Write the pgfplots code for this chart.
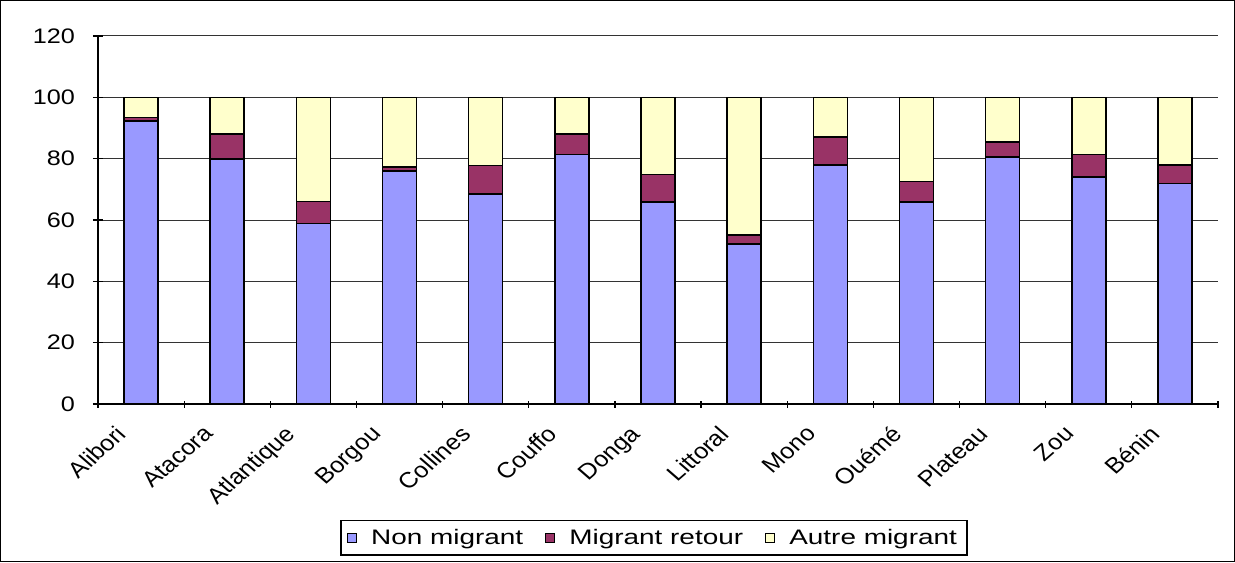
\documentclass[border=0pt]{standalone}
\usepackage{fontspec}
\setmainfont{Liberation Sans}
\usepackage{graphicx}
\usepackage{pgfplots}
\pgfplotsset{compat=1.18}
\usepackage{pgfplotstable}

\definecolor{nonmig}{HTML}{9999FF}
\definecolor{retour}{HTML}{993366}
\definecolor{autre}{HTML}{FFFFCC}

% the reference text is stretched sideways, so the labels are too
\newcommand\lab[1]{\tikz[baseline]\node[inner sep=0pt, transform shape, cm={1.15,0,0,1,(0,0)}, rotate=45]{#1};}
\newcommand\wide[1]{\scalebox{1.33}[1]{#1}}

% values in percent
\pgfplotstableread{
x  non   ret   aut
0  92.3  1.1   6.6
1  79.8  8.2   12.0
2  58.9  7.1   34.0
3  76.0  1.3   22.7
4  68.4  9.4   22.2
5  81.3  6.7   12.0
6  65.9  9.0   25.1
7  52.1  3.0   44.9
8  77.9  9.1   13.0
9  65.9  6.7   27.4
10 80.5  4.9   14.6
11 74.0  7.4   18.6
12 71.9  6.0   22.1
}\data

\begin{document}
\begin{tikzpicture}
\begin{axis}[
  name=ax,
  scale only axis,
  width=560pt, height=184pt,
  ybar stacked, bar width=17pt,
  xmin=-0.5, xmax=12.5,
  ymin=0, ymax=120,
  ytick={0,20,...,120},
  xtick={0,...,12},
  xticklabels={\lab{Alibori},\lab{Atacora},\lab{Atlantique},\lab{Borgou},\lab{Collines},\lab{Couffo},\lab{Donga},\lab{Littoral},\lab{Mono},\lab{Ouémé},\lab{Plateau},\lab{Zou},\lab{Bénin}},
  minor xtick={-0.5,0.5,...,12.5},
  major x tick style={draw=none},
  tick align=outside,
  major tick length=5pt, minor tick length=3.5pt,
  tick style={black, line width=0.6pt},
  axis x line=bottom, axis y line=left,
  axis line style={-, black, line width=0.6pt},
  ymajorgrids, grid style={black!80, line width=0.5pt},
  xticklabel style={anchor=north east, font=\fontsize{11}{12}\selectfont, xshift=-3pt, yshift=-2pt},
  yticklabel={\scalebox{1.2}[1]{\pgfmathprintnumber{\tick}}},
  yticklabel style={font=\fontsize{10.5}{12}\selectfont, xshift=-5.5pt},
  /pgf/number format/assume math mode=true,
  legend style={at={(axis description cs:0.4964,-0.364)}, anchor=center,
    legend columns=3, draw=black, line width=0.6pt,
    font=\fontsize{10.5}{12}\selectfont,
    inner xsep=3pt, inner ysep=2pt,
    /tikz/every odd column/.append style={column sep=5pt},
    /tikz/every even column/.append style={column sep=9pt}},
  legend image code/.code={\draw[#1, draw=black, line width=0.5pt] (0cm,-0.08cm) rectangle (0.16cm,0.08cm);},
]
\addplot[fill=nonmig, draw=black, line width=0.8pt] table[x=x, y=non] {\data};
\addplot[fill=retour, draw=black, line width=0.8pt] table[x=x, y=ret] {\data};
\addplot[fill=autre, draw=black, line width=0.8pt] table[x=x, y=aut] {\data};
\legend{\wide{Non migrant}, \wide{Migrant retour}, \wide{Autre migrant}}
\end{axis}
\draw[black, line width=0.6pt] ([xshift=-48.7pt, yshift=-78.7pt]ax.south west) rectangle ([xshift=8.2pt, yshift=17.7pt]ax.north east);
\useasboundingbox ([xshift=-49pt, yshift=-79pt]ax.south west) rectangle ([xshift=8.5pt, yshift=18pt]ax.north east);
\end{tikzpicture}
\end{document}
